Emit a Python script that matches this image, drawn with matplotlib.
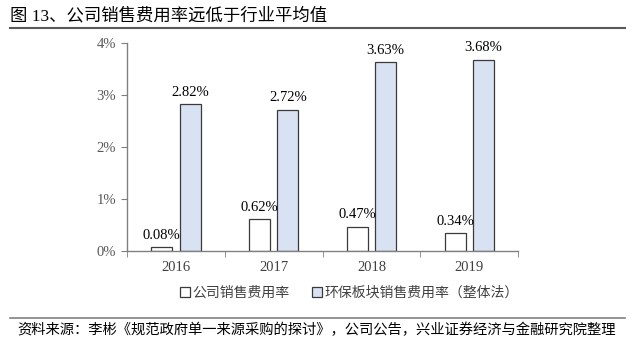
import matplotlib
matplotlib.use("Agg")
import matplotlib.pyplot as plt
from matplotlib.ticker import FixedLocator, FuncFormatter
import numpy as np

plt.rcParams['font.family'] = ['Liberation Serif', 'Noto Sans CJK SC']

years = ['2016', '2017', '2018', '2019']
company = [0.08, 0.62, 0.47, 0.34]
industry = [2.82, 2.72, 3.63, 3.68]
yticks = [0, 1, 2, 3, 4]

title = '图 13、公司销售费用率远低于行业平均值'
source = '资料来源：李彬《规范政府单一来源采购的探讨》，公司公告，兴业证券经济与金融研究院整理'
legend_labels = ['公司销售费用率', '环保板块销售费用率（整体法）']

fig = plt.figure(figsize=(6.35, 3.46), dpi=100)
ax = fig.add_axes([0.2, 0.2746, 0.616, 0.601])

x = np.arange(len(years))
w = 0.215
b1 = ax.bar(x - 0.145, company, w, color='white', edgecolor='#3a3a3a', linewidth=0.9,
            label=legend_labels[0])
b2 = ax.bar(x + 0.145, industry, w, color='#D9E2F3', edgecolor='#3a3a3a', linewidth=0.9,
            label=legend_labels[1])

for bars, vals in ((b1, company), (b2, industry)):
    for r, v in zip(bars, vals):
        ax.text(r.get_x() + r.get_width() / 2, v + 0.1, f'{v:.2f}%',
                ha='center', va='bottom', fontsize=10.5, color='black')

ax.set_xlim(-0.5, 3.5)
ax.set_ylim(0, 4)
ax.set_yticks(yticks)
ax.yaxis.set_major_formatter(FuncFormatter(lambda v, p: f'{v:.0f}%'))
ax.set_xticks(x)
ax.set_xticklabels(years)
ax.xaxis.set_minor_locator(FixedLocator(np.arange(-0.5, 3.6, 1)))
ax.tick_params(axis='x', which='major', length=0, pad=7, labelsize=10.5, labelcolor='#404040')
ax.tick_params(axis='x', which='minor', length=4, direction='out', color='#808080')
ax.tick_params(axis='y', length=4, direction='out', color='#808080', labelsize=10.5,
               labelcolor='#595959', pad=4)

for s in ['top', 'right']:
    ax.spines[s].set_visible(False)
ax.spines['left'].set_color('#808080')
ax.spines['bottom'].set_color('#808080')
ax.spines['left'].set_linewidth(1.0)
ax.spines['bottom'].set_linewidth(1.0)

# legend sits a bit right of the axes centre in the original
leg = fig.legend(handles=[b1, b2], labels=legend_labels, loc='center',
                 bbox_to_anchor=(0.55, 0.153), ncol=2, frameon=False,
                 handlelength=0.7, handleheight=0.7, handletextpad=0.2,
                 columnspacing=1.6, borderpad=0,
                 prop={'family': ['Noto Sans CJK SC'], 'size': 10})
for t in leg.get_texts():
    t.set_color('#404040')

fig.text(0.016, 0.955, title, fontsize=12.5, va='center', ha='left',
         family=['Liberation Serif', 'Noto Sans CJK SC'])
fig.add_artist(plt.Line2D([0.016, 0.984], [0.92, 0.92], color='#595959', linewidth=1.5))
fig.add_artist(plt.Line2D([0.016, 0.984], [0.08, 0.08], color='#808080', linewidth=1.2))
fig.text(0.028, 0.045, source, fontsize=10.3, va='center', ha='left',
         family=['Noto Sans CJK SC'])

fig.savefig('out.png', dpi=100)
